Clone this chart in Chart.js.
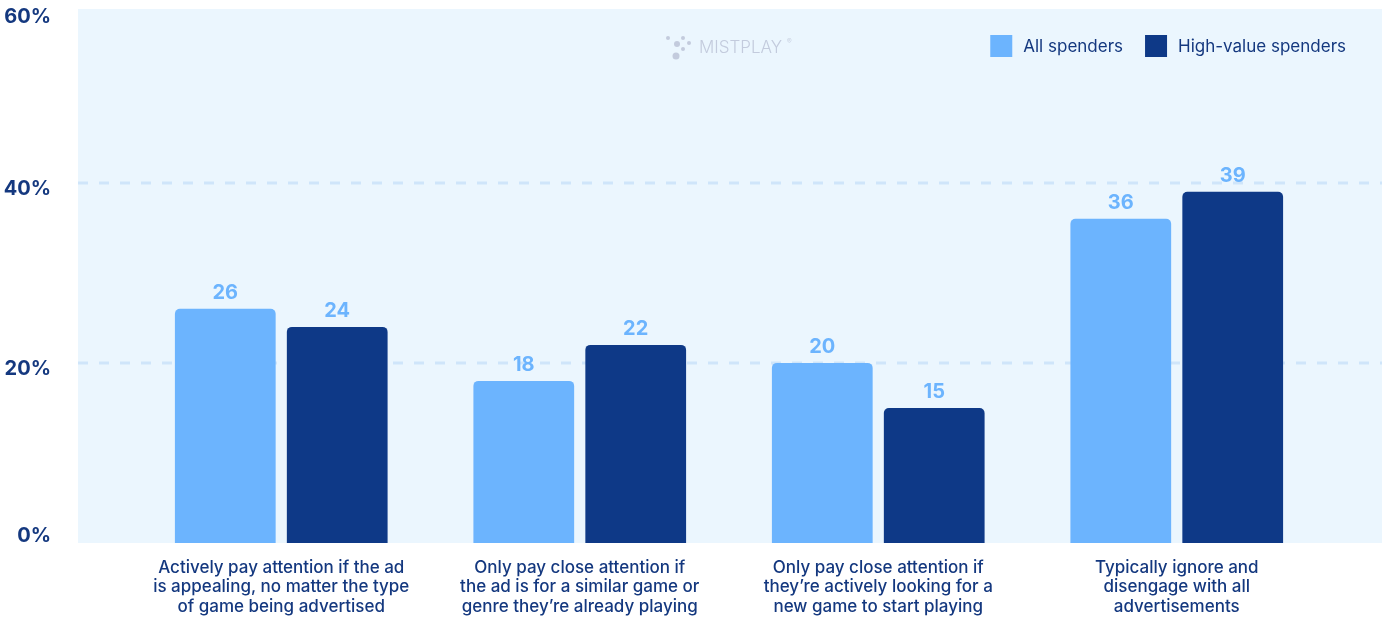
<!DOCTYPE html>
<html>
<head>
<meta charset="utf-8">
<script src="https://cdn.jsdelivr.net/npm/chart.js@4/dist/chart.umd.min.js"></script>
<style>
  html, body { margin: 0; padding: 0; background: #ffffff; }
  #wrap { position: relative; width: 1382px; height: 619px; }
</style>
</head>
<body>
<div id="wrap"><canvas id="chart"></canvas></div>
<script>
// Survey answers about attitudes to in-game ads
const categories = [
  ["Actively pay attention if the ad", "is appealing, no matter the type", "of game being advertised"],
  ["Only pay close attention if", "the ad is for a similar game or", "genre they\u2019re already playing"],
  ["Only pay close attention if", "they\u2019re actively looking for a", "new game to start playing"],
  ["Typically ignore and", "disengage with all", "advertisements"]
];
const seriesNames = ["All spenders", "High-value spenders"];
const allSpenders = [26, 18, 20, 36];
const highValueSpenders = [24, 22, 15, 39];
const yTickValues = [0, 20, 40, 60];
const yTickLabels = ["0%", "20%", "40%", "60%"];

const LIGHT = "#6cb4fe";
const DARK = "#0e3987";
const NAVY = "#14387f";
const PANEL = "#ebf6fe";
const GRID = "#cfe5fa";
const FONT = "Inter, 'Open Sans', sans-serif";

// Panel background, dashed guides, y labels, legend and watermark
const decorations = {
  id: "decorations",
  beforeDatasetsDraw(chart) {
    const { ctx, chartArea: a, scales: { y } } = chart;
    const panelLeft = a.left - 54;
    ctx.save();
    ctx.fillStyle = PANEL;
    ctx.fillRect(panelLeft, a.top, chart.width - panelLeft, a.bottom - a.top);

    ctx.strokeStyle = GRID;
    ctx.lineWidth = 3;
    ctx.setLineDash([10, 11]);
    yTickValues.forEach(v => {
      if (v <= y.min || v >= y.max) return;
      const py = Math.round(y.getPixelForValue(v));
      ctx.beginPath();
      ctx.moveTo(panelLeft, py);
      ctx.lineTo(chart.width, py);
      ctx.stroke();
    });
    ctx.setLineDash([]);

    // watermark
    const wx = 668, wy = 47;
    ctx.fillStyle = "#c3cbdd";
    [[0, -9, 2], [15, -9, 2], [9, -3, 3], [21, -4, 2], [15, 2, 2], [8, 9, 3.5]].forEach(([dx, dy, r]) => {
      ctx.beginPath();
      ctx.arc(wx + dx, wy + dy, r, 0, Math.PI * 2);
      ctx.fill();
    });
    ctx.font = "300 17px " + FONT;
    ctx.textBaseline = "middle";
    ctx.textAlign = "left";
    ctx.fillText("MISTPLAY", 699, wy + 1);
    ctx.font = "300 7px " + FONT;
    ctx.fillText("\u00ae", 787, wy - 5);
    ctx.restore();
  },
  afterDatasetsDraw(chart) {
    const { ctx, chartArea: a, scales: { y } } = chart;
    ctx.save();
    // value labels above bars
    ctx.font = "700 20px " + FONT;
    ctx.fillStyle = LIGHT;
    ctx.textAlign = "center";
    ctx.textBaseline = "middle";
    chart.data.datasets.forEach((ds, i) => {
      chart.getDatasetMeta(i).data.forEach((bar, j) => {
        ctx.fillText(String(ds.data[j]), bar.x, bar.y - 16);
      });
    });

    // y tick labels, kept inside the panel band
    ctx.font = "700 20px " + FONT;
    ctx.fillStyle = NAVY;
    ctx.textAlign = "right";
    yTickValues.forEach((v, i) => {
      let py = y.getPixelForValue(v) + 6;
      py = Math.max(a.top + 8, Math.min(a.bottom - 7, py));
      ctx.fillText(yTickLabels[i], 51, py);
    });

    // legend
    const colors = [LIGHT, DARK];
    ctx.font = "400 17px " + FONT;
    ctx.textAlign = "left";
    const ly = 46;
    const box = 22;
    const items = seriesNames.map((n, i) => ({ n, c: colors[i], w: ctx.measureText(n).width }));
    const total = items.reduce((s, it) => s + box + 11 + it.w, 0) + 22;
    let x = chart.width - 36 - total;
    items.forEach(it => {
      ctx.fillStyle = it.c;
      ctx.fillRect(x, ly - box / 2, box, box);
      ctx.fillStyle = NAVY;
      ctx.fillText(it.n, x + box + 11, ly + 1);
      x += box + 11 + it.w + 22;
    });
    ctx.restore();
  }
};

new Chart(document.getElementById("chart"), {
  type: "bar",
  data: {
    labels: categories,
    datasets: [
      { label: seriesNames[0], data: allSpenders, backgroundColor: LIGHT,
        borderRadius: { topLeft: 5, topRight: 5 }, borderSkipped: "bottom" },
      { label: seriesNames[1], data: highValueSpenders, backgroundColor: DARK,
        borderRadius: { topLeft: 5, topRight: 5 }, borderSkipped: "bottom" }
    ]
  },
  options: {
    responsive: true,
    maintainAspectRatio: false,
    animation: false,
    layout: { padding: { left: 132, right: 56, top: 9, bottom: 0 } },
    datasets: { bar: { categoryPercentage: 0.75, barPercentage: 0.9 } },
    plugins: {
      legend: { display: false },
      tooltip: { enabled: false }
    },
    scales: {
      x: {
        grid: { display: false, drawTicks: false },
        border: { display: false },
        ticks: {
          color: NAVY,
          padding: 15,
          maxRotation: 0,
          autoSkip: false,
          font: { family: FONT, size: 17, weight: "500", lineHeight: 1.15 }
        },
        afterFit(scale) { scale.height = 76; }
      },
      y: {
        display: false,
        min: 0,
        max: 59.3
      }
    }
  },
  plugins: [decorations]
});
</script>
</body>
</html>
